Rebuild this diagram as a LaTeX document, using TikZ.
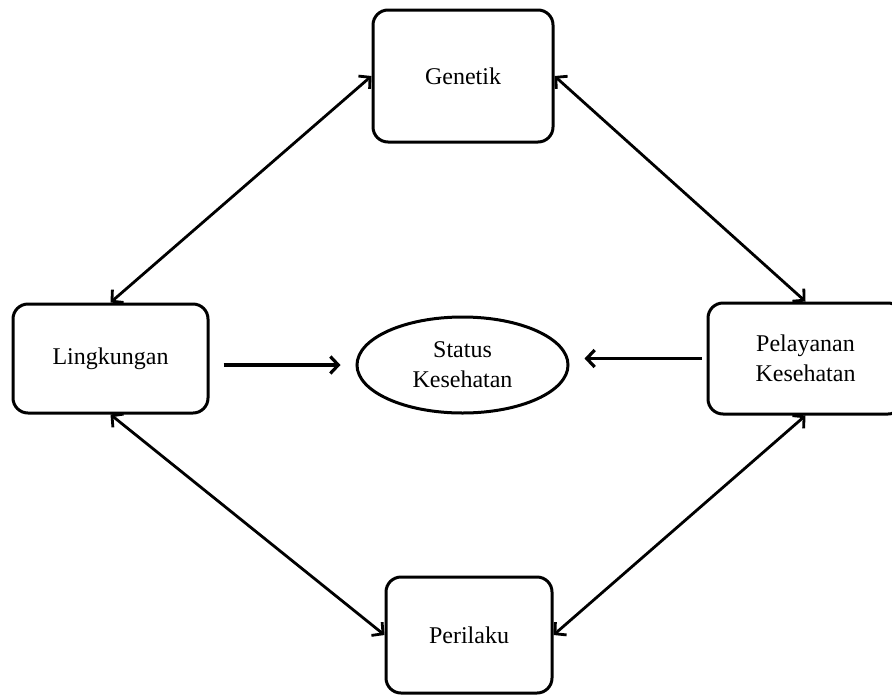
\documentclass[tikz,border=0pt]{standalone}
\usepackage{fontspec}
\setmainfont{Liberation Serif}
\usetikzlibrary{arrows.meta,positioning,shapes.geometric}
\tikzset{
  factor/.style={rectangle,rounded corners=7.5pt,draw=black,line width=1.5pt,
                 align=center,inner sep=0pt,font=\fontsize{12}{15}\selectfont},
  arr/.style={-{Straight Barb[length=4pt,width=8.5pt]},line width=1.6pt},
  dblarr/.style={{Straight Barb[length=4pt,width=8.5pt]}-{Straight Barb[length=4pt,width=8.5pt]},line width=1.4pt},
}
\begin{document}
\begin{tikzpicture}[x=0.5pt,y=-0.5pt,
    hub/.style={ellipse,draw=black,line width=1.5pt,minimum width=105.5pt,minimum height=48pt,
                align=center,inner sep=0pt,font=\fontsize{12}{15}\selectfont},
  ]
    \clip (0,0) rectangle (892,696);
    \node[hub] (stat) at (462.5,365) {Status\\Kesehatan};
    \node[factor,minimum width=90pt,minimum height=66pt] (gen) at (463,76) {Genetik};
    \node[factor,minimum width=97.5pt,minimum height=54.5pt] (ling) at (110.5,358.5) {Lingkungan};
    \node[factor,minimum width=97.5pt,minimum height=55.5pt] (pel) at (805.5,358.5) {Pelayanan\\Kesehatan};
    \node[factor,minimum width=83pt,minimum height=58pt] (per) at (469,635) {Perilaku};
    \draw[dblarr] (gen.west) -- (ling.north);
    \draw[dblarr] (gen.east) -- (pel.north);
    \draw[dblarr] (ling.south) -- (per.west);
    \draw[dblarr] (pel.south) -- (per.east);
    \draw[arr,shorten <=7pt,shorten >=7.5pt] (ling.east |- stat) -- (stat.west);
    \draw[arr,shorten <=2.5pt,shorten >=7.5pt] (pel.west) -- (stat.east |- pel.west);
  \end{tikzpicture}
\end{document}
